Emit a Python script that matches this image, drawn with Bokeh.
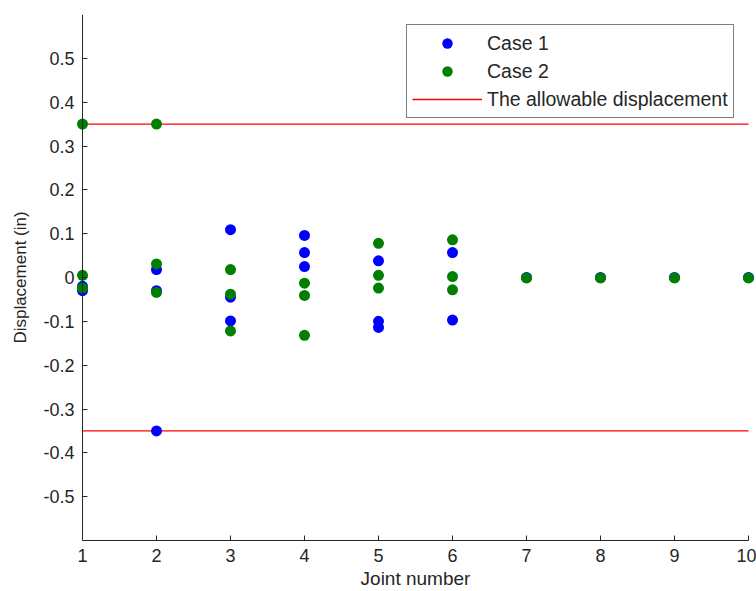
from bokeh.plotting import figure
from bokeh.models import (Range1d, FixedTicker, Legend, LegendItem, ColumnDataSource,
                          LinearAxis, CustomLabelingPolicy)
from bokeh.embed import file_html
from bokeh.resources import INLINE

# ---- data ----
case1_joint = [1, 1, 2, 2, 2, 3, 3, 3, 4, 4, 4, 5, 5, 5, 6, 6, 7, 8, 9, 10]
case1_disp = [-0.020, -0.030, 0.018, -0.030, -0.350, 0.109, -0.045, -0.099,
              0.096, 0.057, 0.025, 0.038, -0.100, -0.114, 0.057, -0.097,
              0.0, 0.0, 0.0, 0.0]

case2_joint = [1, 1, 1, 2, 2, 2, 3, 3, 3, 4, 4, 4, 5, 5, 5, 6, 6, 6, 7, 8, 9, 10]
case2_disp = [0.350, 0.005, -0.024, 0.350, 0.031, -0.034, 0.018, -0.038, -0.122,
              -0.013, -0.041, -0.132, 0.078, 0.005, -0.024, 0.086, 0.002, -0.028,
              -0.001, -0.001, -0.001, -0.001]

allow_x = [1, 10]
allow_limit = 0.35

x_ticks = [1, 2, 3, 4, 5, 6, 7, 8, 9, 10]
y_ticks = [-0.5, -0.4, -0.3, -0.2, -0.1, 0.0, 0.1, 0.2, 0.3, 0.4, 0.5]
y_tick_labels = ["-0.5", "-0.4", "-0.3", "-0.2", "-0.1", "0", "0.1", "0.2", "0.3", "0.4", "0.5"]

legend_labels = ["Case 1", "Case 2", "The allowable displacement"]
x_label = "Joint number"
y_label = "Displacement (in)"

FONT = "Liberation Sans"
INK = "#262626"

# x range padded a little so markers at joints 1 and 10 are not clipped;
# the axes themselves are drawn from joint 1 to joint 10
p = figure(width=756, height=591, output_backend="svg", toolbar_location=None,
           x_range=Range1d(0.919, 10.081), y_range=Range1d(-0.6, 0.6),
           min_border_left=76, min_border_right=2, min_border_top=14, min_border_bottom=51)
p.outline_line_color = None
p.xgrid.visible = False
p.ygrid.visible = False

# allowable displacement lines
src_up = ColumnDataSource(dict(x=allow_x, y=[allow_limit] * len(allow_x)))
src_dn = ColumnDataSource(dict(x=allow_x, y=[-allow_limit] * len(allow_x)))
r_up = p.line("x", "y", source=src_up, line_color="#FF0000", line_width=1.3)
r_dn = p.line("x", "y", source=src_dn, line_color="#FF0000", line_width=1.3)

src1 = ColumnDataSource(dict(x=case1_joint, y=case1_disp))
src2 = ColumnDataSource(dict(x=case2_joint, y=case2_disp))
r1 = p.scatter("x", "y", source=src1, size=11, marker="circle",
               fill_color="#0000FF", line_color="#0000FF", line_width=0)
r2 = p.scatter("x", "y", source=src2, size=11, marker="circle",
               fill_color="#007F00", line_color="#007F00", line_width=0)

# bottom axis
xa = p.xaxis[0]
xa.ticker = FixedTicker(ticks=x_ticks)
xa.bounds = (1, 10)
xa.axis_line_color = INK
xa.major_tick_line_color = INK
xa.major_tick_in = 5
xa.major_tick_out = 0
xa.minor_tick_line_color = None
xa.major_label_text_font = FONT
xa.major_label_text_font_size = "18px"
xa.major_label_text_color = INK
xa.major_label_standoff = 8
xa.axis_label = x_label
xa.axis_label_text_font = FONT
xa.axis_label_text_font_size = "19px"
xa.axis_label_text_font_style = "normal"
xa.axis_label_text_color = INK
xa.axis_label_standoff = 3

# left axis: labels only (at the frame edge)
ya = p.yaxis[0]
ya.ticker = FixedTicker(ticks=y_ticks)
ya.major_label_overrides = {t: s for t, s in zip(y_ticks, y_tick_labels)}
ya.axis_line_color = None
ya.major_tick_line_color = None
ya.minor_tick_line_color = None
ya.major_tick_in = 0
ya.major_tick_out = 0
ya.major_label_text_font = FONT
ya.major_label_text_font_size = "18px"
ya.major_label_text_color = INK
ya.major_label_standoff = 2
ya.axis_label = y_label
ya.axis_label_text_font = FONT
ya.axis_label_text_font_size = "17px"
ya.axis_label_text_font_style = "normal"
ya.axis_label_text_color = INK
ya.axis_label_standoff = 10

# left axis rule and inward ticks, placed at joint 1 (no labels of its own)
no_labels = CustomLabelingPolicy(code="""
for (const i of indices) { indices.unset(i) }
return indices
""")
yb = LinearAxis(fixed_location=1, ticker=FixedTicker(ticks=y_ticks),
                axis_line_color=INK, major_tick_line_color=INK,
                major_tick_in=5, major_tick_out=0, minor_tick_line_color=None,
                major_label_text_font_size="1px", major_label_standoff=0,
                major_label_policy=no_labels)
p.add_layout(yb, "left")

legend = Legend(items=[LegendItem(label=legend_labels[0], renderers=[r1]),
                       LegendItem(label=legend_labels[1], renderers=[r2]),
                       LegendItem(label=legend_labels[2], renderers=[r_up])],
                location=(330, 422))
legend.border_line_color = "black"
legend.border_line_width = 1
legend.background_fill_color = "white"
legend.background_fill_alpha = 1
legend.padding = 5
legend.spacing = 2
legend.margin = 0
legend.glyph_width = 70
legend.glyph_height = 26
legend.label_height = 26
legend.label_standoff = 5
legend.label_text_font = FONT
legend.label_text_font_size = "19.5px"
legend.label_text_color = INK
p.add_layout(legend)

open("out.html", "w").write(file_html(p, INLINE))
